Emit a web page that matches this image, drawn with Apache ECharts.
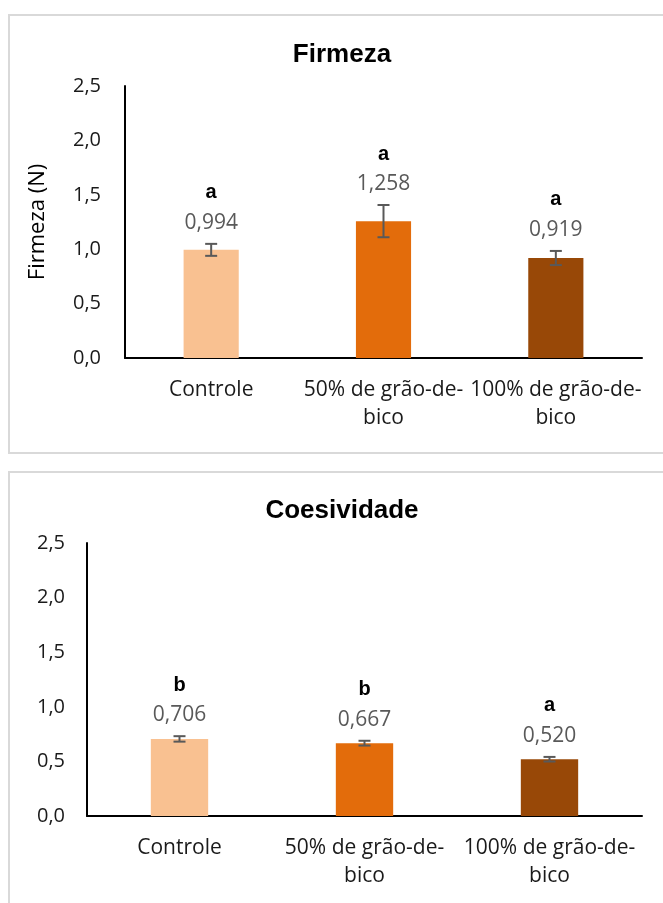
<!DOCTYPE html>
<html>
<head>
<meta charset="utf-8">
<script src="https://cdn.jsdelivr.net/npm/echarts@6/dist/echarts.min.js"></script>
<style>
html,body{margin:0;padding:0;background:#fff;}
#chart{width:663px;height:903px;}
</style>
</head>
<body>
<div id="chart"></div>
<script>
// ---- data ----
var categories = ['Controle', '50% de grão-de-bico', '100% de grão-de-bico'];
var firmeza = [0.994, 1.258, 0.919];
var firmezaSd = [0.055, 0.148, 0.065];
var firmezaLetters = ['a', 'a', 'a'];
var coesividade = [0.706, 0.667, 0.520];
var coesividadeSd = [0.025, 0.022, 0.021];
var coesividadeLetters = ['b', 'b', 'a'];
var barColors = ['#F9C191', '#E36C0B', '#984807'];

var FONT = 'Open Sans';
function dec(v, n) { return v.toFixed(n).replace('.', ','); }

function makeErr(letters) {
  return function (params, api) {
    var i = api.value(0), v = api.value(1), e = api.value(2);
    var top = api.coord([i, v + e]);
    var bot = api.coord([i, v - e]);
    var cx = top[0], hw = 6;
    var st = { stroke: '#595959', lineWidth: 2 };
    return {
      type: 'group',
      children: [
        { type: 'line', shape: { x1: cx, y1: top[1], x2: cx, y2: bot[1] }, style: st },
        { type: 'line', shape: { x1: cx - hw, y1: top[1], x2: cx + hw, y2: top[1] }, style: st },
        { type: 'line', shape: { x1: cx - hw, y1: bot[1], x2: cx + hw, y2: bot[1] }, style: st },
        { type: 'text', x: cx, y: top[1] - 21, style: { text: dec(v, 3), fill: '#595959', fontSize: 21, fontFamily: FONT, align: 'center', verticalAlign: 'middle' } },
        { type: 'text', x: cx, y: top[1] - 51, style: { text: letters[i], fill: '#000', fontSize: 20, fontWeight: 'bold', fontFamily: 'Liberation Sans', align: 'center', verticalAlign: 'middle' } }
      ]
    };
  };
}

function catFmt(s) { return s.replace('grão-de-bico', 'grão-de-\nbico'); }

var xAxisBase = function (idx) {
  return {
    type: 'category', gridIndex: idx, data: categories,
    axisLine: { lineStyle: { color: '#000', width: 2 } },
    axisTick: { show: false },
    axisLabel: { formatter: catFmt, color: '#1a1a1a', fontSize: 21, fontFamily: FONT, lineHeight: 28, margin: 18, interval: 0 }
  };
};
var yAxisBase = function (idx, margin) {
  return {
    type: 'value', gridIndex: idx, min: 0, max: 2.5, interval: 0.5,
    axisLine: { show: true, lineStyle: { color: '#000', width: 2 } },
    axisTick: { show: false },
    splitLine: { show: false },
    axisLabel: { formatter: function (v) { return dec(v, 1); }, color: '#1a1a1a', fontSize: 20, fontFamily: FONT, margin: margin }
  };
};

var y0 = yAxisBase(0, 24);
y0.name = 'Firmeza (N)';
y0.nameLocation = 'middle';
y0.nameGap = 76;
y0.nameTextStyle = { color: '#000', fontSize: 22, fontFamily: FONT };

var option = {
  animation: false,
  color: barColors,
  title: [
    { text: 'Firmeza', left: 337, top: 37, textAlign: 'center', textStyle: { fontSize: 26, fontWeight: 'bold', fontFamily: 'Liberation Sans', color: '#000' } },
    { text: 'Coesividade', left: 337, top: 493, textAlign: 'center', textStyle: { fontSize: 26, fontWeight: 'bold', fontFamily: 'Liberation Sans', color: '#000' } }
  ],
  graphic: [
    { type: 'rect', shape: { x: 9, y: 15, width: 720, height: 438 }, style: { fill: 'none', stroke: '#D9D9D9', lineWidth: 2 }, z: -1 },
    { type: 'rect', shape: { x: 9, y: 472, width: 720, height: 500 }, style: { fill: 'none', stroke: '#D9D9D9', lineWidth: 2 }, z: -1 }
  ],
  grid: [
    { left: 125, right: 21, top: 86, height: 272 },
    { left: 87, right: 21, top: 543, height: 273 }
  ],
  xAxis: [xAxisBase(0), xAxisBase(1)],
  yAxis: [y0, yAxisBase(1, 22)],
  series: [
    { type: 'bar', xAxisIndex: 0, yAxisIndex: 0, data: firmeza, colorBy: 'data', barWidth: '32%' },
    { type: 'custom', xAxisIndex: 0, yAxisIndex: 0, renderItem: makeErr(firmezaLetters), z: 5,
      data: firmeza.map(function (v, i) { return [i, v, firmezaSd[i]]; }) },
    { type: 'bar', xAxisIndex: 1, yAxisIndex: 1, data: coesividade, colorBy: 'data', barWidth: '31%' },
    { type: 'custom', xAxisIndex: 1, yAxisIndex: 1, renderItem: makeErr(coesividadeLetters), z: 5,
      data: coesividade.map(function (v, i) { return [i, v, coesividadeSd[i]]; }) }
  ]
};
var chart = echarts.init(document.getElementById('chart'));
chart.setOption(option);
</script>
</body>
</html>
